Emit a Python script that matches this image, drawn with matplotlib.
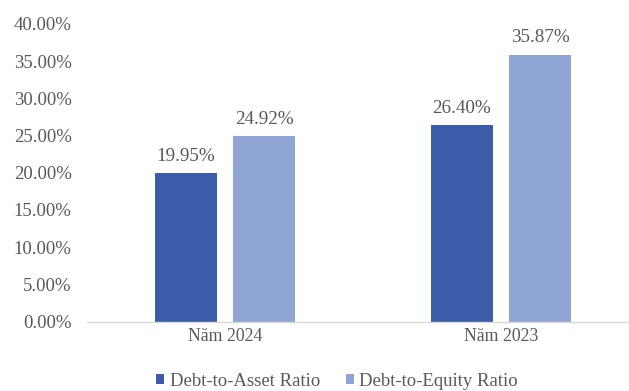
import matplotlib.pyplot as plt
import numpy as np

# Dữ liệu tỷ số nợ
years = ['Năm 2024', 'Năm 2023']
debt_to_asset = [19.95, 26.40]
debt_to_equity = [24.92, 35.87]
series_names = ['Debt-to-Asset Ratio', 'Debt-to-Equity Ratio']
y_ticks = [0, 5, 10, 15, 20, 25, 30, 35, 40]

plt.rcParams['font.family'] = ['Liberation Serif', 'DejaVu Serif']

dark_blue = '#3B5CA8'
light_blue = '#8FA5D3'
text_color = '#595959'

fig = plt.figure(figsize=(6.29, 3.91), dpi=100)
ax = fig.add_axes([87 / 629, 1 - 321.5 / 391, 541 / 629, 297.5 / 391])

x = np.arange(len(years))
width = 0.225
offset = 0.142

bars1 = ax.bar(x - offset, debt_to_asset, width, color=dark_blue, label=series_names[0])
bars2 = ax.bar(x + offset, debt_to_equity, width, color=light_blue, label=series_names[1])

# Nhãn giá trị trên cột
for bars in (bars1, bars2):
    for b in bars:
        h = b.get_height()
        ax.text(b.get_x() + b.get_width() / 2, h + 1.15, f'{h:.2f}%',
                ha='center', va='bottom', fontsize=13.8, color=text_color)

ax.set_xlim(-0.5, 1.46)
ax.set_ylim(0, 40)
ax.set_yticks(y_ticks)
ax.set_yticklabels([f'{v:.2f}%' for v in y_ticks])
ax.set_xticks(x)
ax.set_xticklabels(years)
ax.tick_params(axis='y', length=0, labelsize=13.5, colors=text_color, pad=11)
ax.tick_params(axis='x', length=0, labelsize=12.8, colors=text_color, pad=5)

for side in ('top', 'right', 'left'):
    ax.spines[side].set_visible(False)
ax.spines['bottom'].set_color('#D9D9D9')
ax.spines['bottom'].set_linewidth(1)

fig.legend(loc='center', bbox_to_anchor=(0.536, 1 - 381 / 391), ncol=2, frameon=False,
           fontsize=13.5, handlelength=0.4, handleheight=0.4, handletextpad=0.3,
           columnspacing=1.4, labelcolor=text_color)

fig.savefig('out.png', dpi=100)
